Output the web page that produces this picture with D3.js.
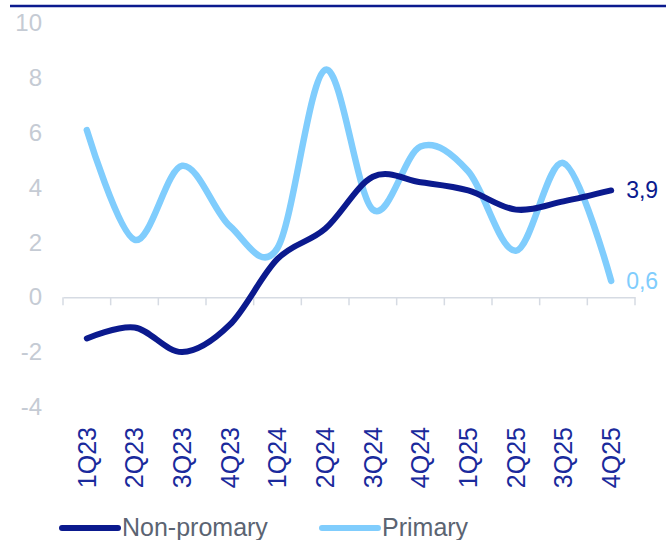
<!DOCTYPE html>
<html>
<head>
<meta charset="utf-8">
<script src="https://cdn.jsdelivr.net/npm/d3@7"></script>
<style>
  html, body { margin: 0; padding: 0; background: #ffffff; }
  svg { display: block; }
  text { font-family: "Liberation Sans", Arial, sans-serif; }
</style>
</head>
<body>
<svg id="chart" width="666" height="540"></svg>
<script>
const categories = ["1Q23","2Q23","3Q23","4Q23","1Q24","2Q24","3Q24","4Q24","1Q25","2Q25","3Q25","4Q25"];
const nonPrimary = [-1.5, -1.1, -2.0, -1.0, 1.4, 2.5, 4.4, 4.2, 3.9, 3.2, 3.5, 3.9];
const primary    = [6.1, 2.1, 4.8, 2.6, 1.8, 8.3, 3.2, 5.5, 4.6, 1.7, 4.9, 0.6];
const yTicks = [-4, -2, 0, 2, 4, 6, 8, 10];
const seriesNames = ["Non-promary", "Primary"];
const endLabels = ["3,9", "0,6"];

const darkBlue = "#0b1a8e";
const lightBlue = "#80cdfd";

const svg = d3.select("#chart");

const x = d3.scaleBand().domain(categories).range([63, 635]).padding(0);
const y = d3.scaleLinear().domain([-4, 10]).range([406.9, 23.3]);

// top rule
svg.append("line")
  .attr("x1", 10).attr("x2", 666).attr("y1", 6).attr("y2", 6)
  .attr("stroke", darkBlue).attr("stroke-width", 2.5);

// y axis labels
const yAxis = d3.axisLeft(y).tickValues(yTicks).tickSize(0).tickPadding(0)
  .tickFormat(d => String(d));
const gy = svg.append("g").attr("transform", "translate(42,0)").call(yAxis);
gy.select(".domain").remove();
gy.selectAll("text")
  .attr("fill", "#c5cbd4")
  .style("font-size", "24px")
  .style("font-family", "'Liberation Sans', Arial, sans-serif");

// x axis at zero
const xAxis = d3.axisBottom(x).tickSize(0).tickFormat("");
const gx = svg.append("g").attr("transform", `translate(0,${y(0)})`).call(xAxis);
gx.select(".domain").attr("stroke", "#d6dbe3").attr("stroke-width", 1.5);
gx.selectAll(".tick").remove();
const boundaries = categories.map(c => x(c)).concat([x.range()[1]]);
gx.selectAll("line.bt").data(boundaries).enter().append("line")
  .attr("class", "bt")
  .attr("x1", d => d).attr("x2", d => d)
  .attr("y1", 0).attr("y2", 8)
  .attr("stroke", "#d6dbe3").attr("stroke-width", 1.5);

// category labels (rotated)
svg.append("g").selectAll("text").data(categories).enter().append("text")
  .attr("transform", d => `translate(${x(d) + x.bandwidth() / 2},427) rotate(-90)`)
  .attr("text-anchor", "end")
  .attr("dy", "0.35em")
  .attr("fill", "#1a2a9c")
  .style("font-size", "25px")
  .text(d => d);

// lines
const line = d3.line()
  .x((d, i) => x(categories[i]) + x.bandwidth() / 2)
  .y(d => y(d))
  .curve(d3.curveCardinal.tension(0));

svg.append("path").datum(primary)
  .attr("d", line).attr("fill", "none")
  .attr("stroke", lightBlue).attr("stroke-width", 6.5)
  .attr("stroke-linecap", "round").attr("stroke-linejoin", "round");

svg.append("path").datum(nonPrimary)
  .attr("d", line).attr("fill", "none")
  .attr("stroke", darkBlue).attr("stroke-width", 6)
  .attr("stroke-linecap", "round").attr("stroke-linejoin", "round");

// end labels
const lastX = x(categories[categories.length - 1]) + x.bandwidth() / 2;
svg.append("text")
  .attr("x", lastX + 15).attr("y", y(nonPrimary[nonPrimary.length - 1]))
  .attr("dy", "0.35em").attr("fill", darkBlue)
  .style("font-size", "23px").text(endLabels[0]);
svg.append("text")
  .attr("x", lastX + 15).attr("y", y(primary[primary.length - 1]))
  .attr("dy", "0.35em").attr("fill", lightBlue)
  .style("font-size", "23px").text(endLabels[1]);

// legend
const legend = svg.append("g");
const legItems = [
  { name: seriesNames[0], color: darkBlue, x0: 62 },
  { name: seriesNames[1], color: lightBlue, x0: 322 }
];
legItems.forEach(it => {
  legend.append("line")
    .attr("x1", it.x0).attr("x2", it.x0 + 56)
    .attr("y1", 528).attr("y2", 528)
    .attr("stroke", it.color).attr("stroke-width", 6)
    .attr("stroke-linecap", "round");
  legend.append("text")
    .attr("x", it.x0 + 60).attr("y", 536)
    .attr("fill", "#5b6472")
    .style("font-size", "25px")
    .text(it.name);
});
</script>
</body>
</html>
